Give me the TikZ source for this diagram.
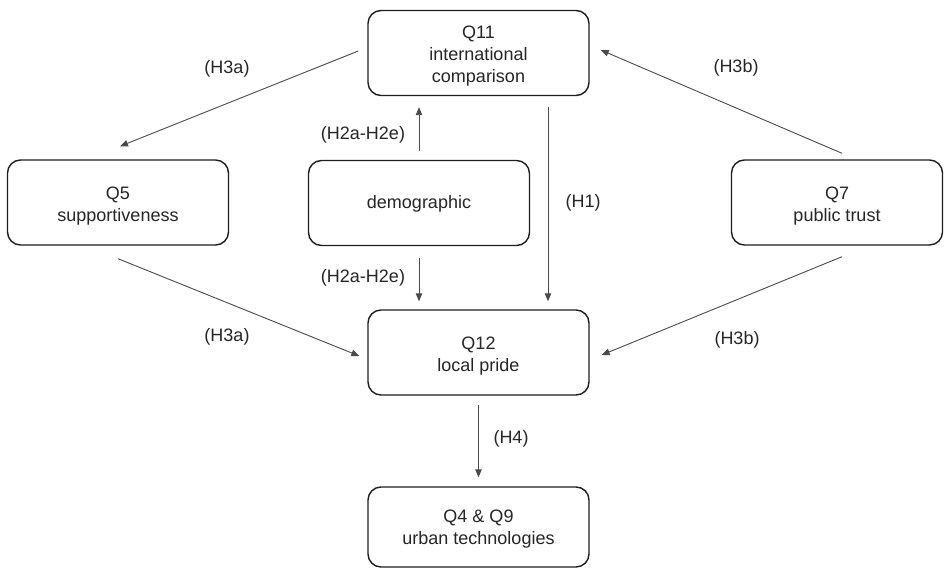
\documentclass[tikz,border=0pt]{standalone}
\usepackage{fontspec}
\setmainfont{Liberation Sans}
\usetikzlibrary{arrows.meta,calc}
\definecolor{txt}{HTML}{262626}
\definecolor{boxline}{HTML}{1E1E1E}
\definecolor{arrline}{HTML}{4A4A4A}
\newcommand{\boxtext}[2][3.5pt]{\raisebox{-#1}[\height][\depth]{\begin{tabular}{@{}c@{}}#2\end{tabular}}}
\begin{document}
\begin{tikzpicture}[x=1pt,y=-1pt,
  box/.style={draw=boxline, line width=1.4pt, rounded corners=13pt,
    minimum width=221pt, minimum height=85pt, inner sep=0pt, text=txt,
    font=\fontsize{18}{22}\selectfont},
  arr/.style={draw=arrline, line width=0.9pt, -{Triangle[length=8pt,width=6.5pt]}},
  lbl/.style={text=txt, font=\fontsize{18}{22}\selectfont, inner sep=0pt}]
\useasboundingbox[fill=white] (0,0) rectangle (944,569);

\node[box] (q11) at (478.5,53) {\boxtext{Q11\\international\\comparison}};
\node[box] (q5) at (118,202.5) {\boxtext{Q5\\supportiveness}};
\node[box] (demo) at (419,203) {\boxtext[1.5pt]{demographic}};
\node[box, minimum width=211pt] (q7) at (837,202.5) {\boxtext{Q7\\public trust}};
\node[box] (q12) at (478.5,352.5) {\boxtext{Q12\\local pride}};
\node[box, minimum height=80pt] (q4) at (478.5,527) {\boxtext[2.5pt]{Q4 \& Q9\\urban technologies}};

% arrows
\draw[arr] ($(q11.west)+(-9,-2)$) -- ($(q5.north)+(2,-13)$);
\draw[arr] ($(q7.north)+(5,-6)$) -- ($(q11.east)+(11,-3)$);
\draw[arr, shorten <=8.5pt, shorten >=11pt] (demo.north) -- (demo.north |- q11.south);
\draw[arr, shorten <=11.5pt, shorten >=8pt] (demo.south) -- (demo.south |- q12.north);
\draw[arr, shorten <=11pt, shorten >=8pt] ([xshift=69.5pt]q11.south) -- ([xshift=69.5pt]q12.north);
\draw[arr] ($(q5.south)+(0,13)$) -- ($(q12.west)+(-8,3.5)$);
\draw[arr] ($(q7.south)+(5,11)$) -- ($(q12.east)+(12,2.5)$);
\draw[arr, shorten <=9pt, shorten >=9pt] (q12.south) -- (q4.north);

% labels
\node[lbl] (l1) at (227,69) {(H3a)};
\node[lbl] (l2) at (736,68) {(H3b)};
\node[lbl] (l3) at (363,135) {(H2a-H2e)};
\node[lbl] (l4) at (583,203) {(H1)};
\node[lbl] (l5) at (363,278) {(H2a-H2e)};
\node[lbl] (l6) at (227,337) {(H3a)};
\node[lbl] (l7) at (737,340) {(H3b)};
\node[lbl] (l8) at (511,439) {(H4)};
\end{tikzpicture}
\end{document}
